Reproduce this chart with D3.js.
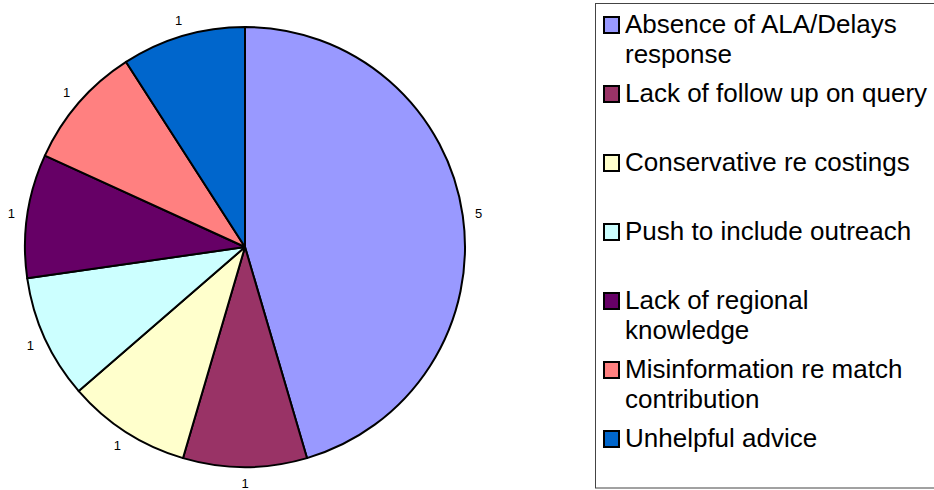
<!DOCTYPE html>
<html>
<head>
<meta charset="utf-8">
<script src="https://cdn.jsdelivr.net/npm/d3@7"></script>
<style>
  html, body { margin: 0; padding: 0; background: #fff; }
  svg { display: block; font-family: "Liberation Sans", Arial, sans-serif; }
</style>
</head>
<body>
<svg id="chart" width="934" height="490"></svg>
<script>
// Issues raised and how many times each was mentioned
const categories = [
  "Absence of ALA/Delays response",
  "Lack of follow up on query",
  "Conservative re costings",
  "Push to include outreach",
  "Lack of regional knowledge",
  "Misinformation re match contribution",
  "Unhelpful advice"
];
const counts = [5, 1, 1, 1, 1, 1, 1];
// Legend text, already broken into lines
const legendLines = [
  ["Absence of ALA/Delays", "response"],
  ["Lack of follow up on query"],
  ["Conservative re costings"],
  ["Push to include outreach"],
  ["Lack of regional", "knowledge"],
  ["Misinformation re match", "contribution"],
  ["Unhelpful advice"]
];
const palette = ["#9999FF", "#993366", "#FFFFCC", "#CCFFFF", "#660066", "#FF8080", "#0066CC"];

const svg = d3.select("#chart");
const cx = 245, cy = 247, radius = 220, labelRadius = 236;

const color = d3.scaleOrdinal().domain(categories).range(palette);
const pie = d3.pie().sort(null).value(d => d.value);
const data = categories.map((c, i) => ({ name: c, value: counts[i] }));
const arcs = pie(data);
const arc = d3.arc().innerRadius(0).outerRadius(radius);

const g = svg.append("g").attr("transform", `translate(${cx},${cy})`);

g.selectAll("path.slice")
  .data(arcs)
  .join("path")
  .attr("class", "slice")
  .attr("d", arc)
  .attr("fill", d => color(d.data.name))
  .attr("stroke", "#000")
  .attr("stroke-width", 2)
  .attr("stroke-linejoin", "round");

// Value labels just outside each slice
g.selectAll("text.val")
  .data(arcs)
  .join("text")
  .attr("class", "val")
  .attr("x", d => labelRadius * Math.sin((d.startAngle + d.endAngle) / 2))
  .attr("y", d => -labelRadius * Math.cos((d.startAngle + d.endAngle) / 2))
  .attr("text-anchor", "middle")
  .attr("dominant-baseline", "central")
  .attr("font-size", 13)
  .attr("fill", "#000")
  .text(d => d.data.value);

// Legend
const legend = svg.append("g");
legend.append("rect")
  .attr("x", 595.5).attr("y", 3.5)
  .attr("width", 360).attr("height", 484.5)
  .attr("fill", "#fff")
  .attr("stroke", "#444")
  .attr("stroke-width", 1);

const rowY = d3.scaleLinear().domain([0, 1]).range([33, 102]);
const items = legend.selectAll("g.item")
  .data(categories)
  .join("g")
  .attr("class", "item")
  .attr("transform", (d, i) => `translate(0,${rowY(i)})`);

items.append("rect")
  .attr("x", 604).attr("y", -16)
  .attr("width", 15).attr("height", 16)
  .attr("fill", d => color(d))
  .attr("stroke", "#000")
  .attr("stroke-width", 2);

items.append("text")
  .attr("x", 625)
  .attr("y", 0)
  .attr("font-size", 26)
  .attr("fill", "#000")
  .selectAll("tspan")
  .data((d, i) => legendLines[i])
  .join("tspan")
  .attr("x", 625)
  .attr("dy", (d, j) => j === 0 ? 0 : 30)
  .text(d => d);
</script>
</body>
</html>
